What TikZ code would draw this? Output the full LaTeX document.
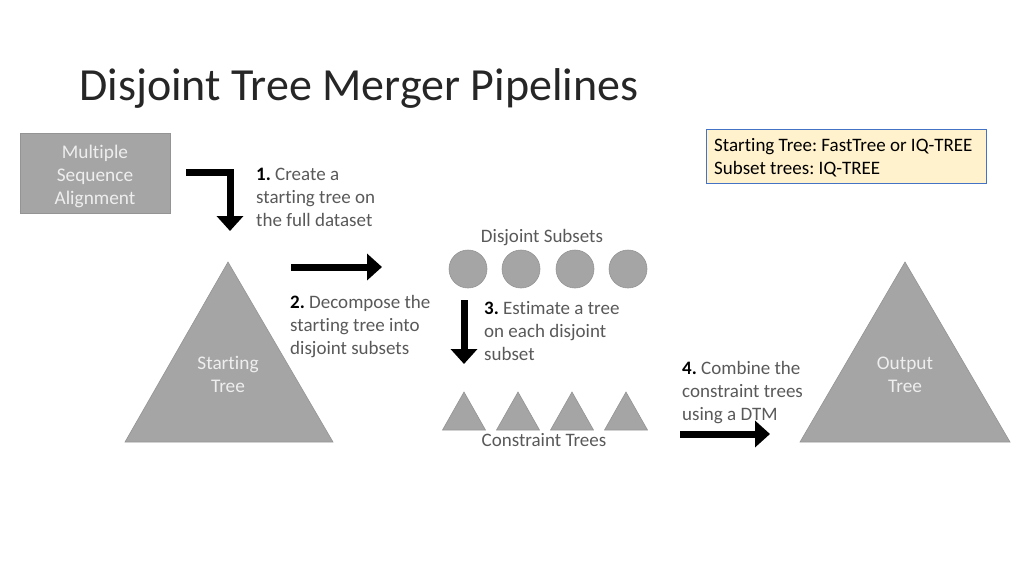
\documentclass[tikz,border=0pt]{standalone}
\usepackage{fontspec}
\setmainfont{Carlito}[Ligatures={NoCommon}]
\usetikzlibrary{arrows.meta}
\definecolor{shapegray}{HTML}{A5A5A5}
\definecolor{txtgray}{HTML}{595959}
\definecolor{labwhite}{HTML}{EEEEEE}
\definecolor{notefill}{HTML}{FFF2CC}
\definecolor{noteblue}{HTML}{4472C4}
\frenchspacing
\tikzset{
  x=1pt, y=-1pt,
  grayshape/.style={fill=shapegray, draw=shapegray!90!black, line width=0.6pt},
  inlabel/.style={text=labwhite, font=\fontsize{19.3}{23}\selectfont, align=center},
  steptext/.style={text=txtgray, font=\fontsize{19}{23}\selectfont, align=left, anchor=north west, inner sep=0pt},
  caption/.style={text=txtgray, font=\fontsize{19}{23}\selectfont, inner sep=0pt},
  bigarrow/.style={line width=7pt, -{Triangle[length=15pt, width=26pt]}},
}
\begin{document}
\begin{tikzpicture}
\useasboundingbox (0,0) rectangle (1024,576);
% title
\node[anchor=west, inner sep=0pt, font=\fontsize{46}{54}\selectfont, text=black!85] (title) at (79,88) {Disjoint Tree Merger Pipelines};
% MSA box
\node[grayshape, rectangle, minimum width=150pt, minimum height=80pt] (msa) at (95,173) {};
\node[inlabel] (msal) at (95,176) {Multiple\\Sequence\\Alignment};
% bent arrow
\coordinate (a1s) at (186,172);
\coordinate (a1c) at (230,172);
\coordinate (a1e) at (230,231);
\draw[bigarrow] (a1s) -- (a1c) -- (a1e);
\node[steptext] (s1) at (256,168) {\textcolor{black}{\textbf{1.}} Create a\\starting tree on\\the full dataset};
% starting tree
\draw[grayshape] (228,262) coordinate (stApex) -- (333,442) -- (125,442) -- cycle;
\node[inlabel] (st) at (228,374) {Starting\\Tree};
% arrow 2
\coordinate (a2s) at (291,267);
\coordinate (a2e) at (382,267);
\draw[bigarrow] (a2s) -- (a2e);
\node[steptext] (s2) at (290,295) {\textcolor{black}{\textbf{2.}} Decompose the\\starting tree into\\disjoint subsets};
% disjoint subsets
\node[caption] (dsl) at (542,238) {Disjoint Subsets};
\foreach \i/\cx in {1/468,2/521,3/575,4/628}{
  \node[grayshape, circle, minimum size=38pt, inner sep=0pt] (c\i) at (\cx,269) {};
}
% arrow 3
\coordinate (a3s) at (464,300);
\coordinate (a3e) at (464,364);
\draw[bigarrow] (a3s) -- (a3e);
\node[steptext] (s3) at (484,301) {\textcolor{black}{\textbf{3.}} Estimate a tree\\on each disjoint\\subset};
% constraint trees
\foreach \i/\cx in {1/464,2/518,3/572,4/626}{
  \draw[grayshape] (\cx,392) -- (\cx+21.5,430) -- (\cx-21.5,430) -- cycle;
}
\node[caption] (ctl) at (544,440) {Constraint Trees};
% step 4
\node[steptext] (s4) at (682,361) {\textcolor{black}{\textbf{4.}} Combine the\\constraint trees\\using a DTM};
\coordinate (a4s) at (680,434);
\coordinate (a4e) at (770,434);
\draw[bigarrow] (a4s) -- (a4e);
% output tree
\draw[grayshape] (905,262) -- (1010,442) -- (800,442) -- cycle;
\node[inlabel] (ot) at (905,375) {Output\\Tree};
% note
\node[draw=noteblue, fill=notefill, line width=1pt, minimum width=280pt, minimum height=54pt] (note) at (846,156) {};
\node[anchor=north west, align=left, inner sep=0pt, font=\fontsize{19}{23}\selectfont] (notetext) at (714,138.5) {Starting Tree: FastTree or IQ-TREE\\Subset trees: IQ-TREE};
\end{tikzpicture}
\end{document}
